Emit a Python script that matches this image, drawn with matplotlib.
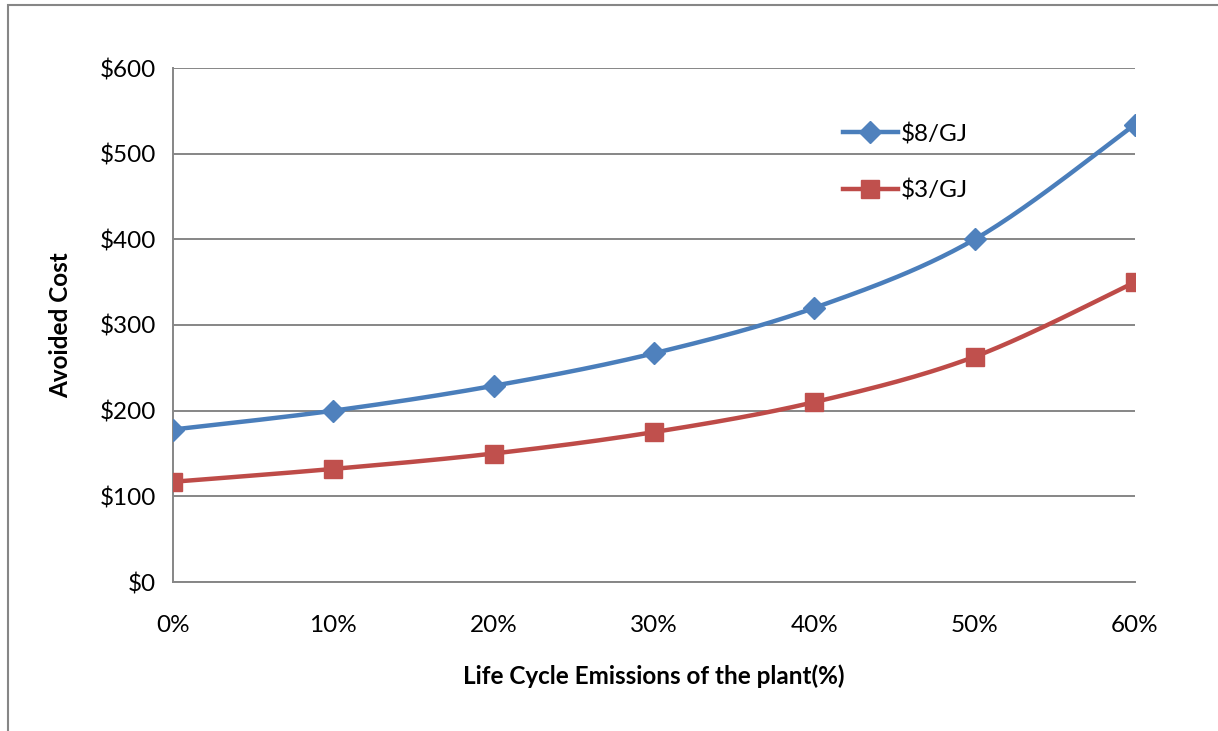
import numpy as np
import matplotlib
matplotlib.use("Agg")
import matplotlib.pyplot as plt
from matplotlib.patches import Rectangle

# data
emissions = [0, 10, 20, 30, 40, 50, 60]
tick_labels = ["0%", "10%", "20%", "30%", "40%", "50%", "60%"]
cost_8 = [178, 200, 229, 267, 320, 400, 534]
cost_3 = [117, 132, 150, 175, 210, 263, 350]
y_ticks = [0, 100, 200, 300, 400, 500, 600]


def smooth(x, y, n=30):
    # Excel-style smoothed line: cubic Bezier with Catmull-Rom control points
    p = np.column_stack([x, y]).astype(float)
    ext = np.vstack([p[0], p, p[-1]])
    out = []
    t = np.linspace(0, 1, n)[:, None]
    for i in range(len(p) - 1):
        p0, p3 = ext[i + 1], ext[i + 2]
        c1 = p0 + (ext[i + 2] - ext[i]) / 6
        c2 = p3 - (ext[i + 3] - ext[i + 1]) / 6
        seg = (1 - t) ** 3 * p0 + 3 * (1 - t) ** 2 * t * c1 + 3 * (1 - t) * t ** 2 * c2 + t ** 3 * p3
        out.append(seg)
    out = np.vstack(out)
    return out[:, 0], out[:, 1]


plt.rcParams["font.family"] = ["Lato", "DejaVu Sans"]

fig = plt.figure(figsize=(12.18, 7.31), dpi=100)
ax = fig.add_axes([173 / 1218, 1 - 582 / 731, (1135 - 173) / 1218, (582 - 68) / 731])

grey = "#868686"
blue_line, blue_mark = "#4A7EBB", "#4F81BD"
red_line, red_mark = "#BE4B48", "#C0504D"

for yv in y_ticks:
    ax.axhline(yv, color=grey, lw=1.4, zorder=1)

xs, ys = smooth(emissions, cost_8)
ax.plot(xs, ys, color=blue_line, lw=3.2, solid_capstyle="round", zorder=3)
ax.plot(emissions, cost_8, ls="none", marker="D", ms=11, color=blue_mark, zorder=4)
xs, ys = smooth(emissions, cost_3)
ax.plot(xs, ys, color=red_line, lw=3.2, solid_capstyle="round", zorder=3)
ax.plot(emissions, cost_3, ls="none", marker="s", ms=13, color=red_mark, zorder=4)

# legend proxies
h8, = ax.plot([], [], color=blue_line, lw=3.2, marker="D", ms=11, mfc=blue_mark, mec=blue_mark)
h3, = ax.plot([], [], color=red_line, lw=3.2, marker="s", ms=13, mfc=red_mark, mec=red_mark)
ax.legend([h8, h3], ["$8/GJ", "$3/GJ"], loc="upper left", bbox_to_anchor=(843 / 1218, 1 - 123 / 731),
          bbox_transform=fig.transFigure, frameon=False, fontsize=17.5, handlelength=2.25,
          handletextpad=0.12, labelspacing=1.4, borderpad=0, borderaxespad=0)

ax.set_xlim(0, 60)
ax.set_ylim(0, 600)
ax.set_xticks(emissions)
ax.set_xticklabels(tick_labels)
ax.set_yticks(y_ticks)
ax.set_yticklabels(["$" + str(v) for v in y_ticks])
ax.tick_params(length=0, labelsize=17.5, colors="black")
ax.tick_params(axis="x", pad=24)
ax.tick_params(axis="y", pad=12)
for side in ["top", "right"]:
    ax.spines[side].set_visible(False)
for side in ["left", "bottom"]:
    ax.spines[side].set_color(grey)
    ax.spines[side].set_linewidth(1.4)
ax.set_xlabel("Life Cycle Emissions of the plant(%)", fontsize=17.5, fontweight="bold", labelpad=20)
ax.set_ylabel("Avoided Cost", fontsize=17.5, fontweight="bold", labelpad=20)

# chart area border
fig.add_artist(Rectangle((8 / 1218, -0.1), 1.2, 1.1 - 5 / 731, transform=fig.transFigure,
                         fill=False, edgecolor=grey, lw=1.5))

fig.savefig("out.png", dpi=100)
